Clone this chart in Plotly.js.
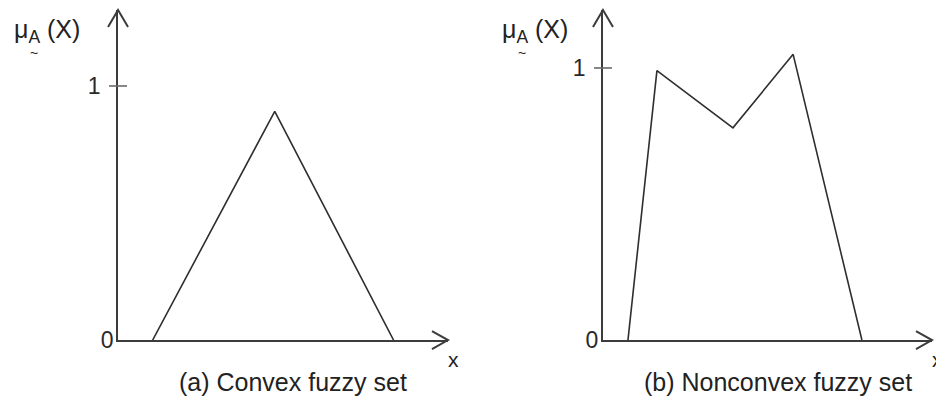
<!DOCTYPE html>
<html>
<head>
<meta charset="utf-8">
<script src="https://cdn.plot.ly/plotly-3.0.1.min.js"></script>
<style>
  html, body { margin: 0; padding: 0; background: #fff; }
  #chart { width: 936px; height: 401px; }
</style>
</head>
<body>
<div id="chart"></div>
<script>
// (a) convex membership function: a single triangle
const convexX = [1.05, 4.75, 8.35];
const convexMu = [0, 0.9, 0];

// (b) nonconvex membership function: two peaks with a dip between them
const nonconvexX = [0.76, 1.64, 3.95, 5.78, 7.87];
const nonconvexMu = [0, 0.99, 0.78, 1.05, 0];

// shared tick values / labels on the membership axis
const muTickVals = [0, 1];
const muTickText = ['0', '1\u00a0\u00a0'];

const captions = ['(a) Convex fuzzy set', '(b) Nonconvex fuzzy set'];
const axisName = 'x';
const muLabel = '\u03bc<sub>A</sub> (X)';

const INK = '#2e2e2e';
const AXIS = '#3c3c3c';
const FONT = 'Liberation Sans, Arial, Helvetica, sans-serif';

const xMax = 10;

function xAxisCfg(domain, anchor) {
  return {
    domain: domain, range: [0, xMax], anchor: anchor, showline: true, linecolor: AXIS, linewidth: 2,
    showgrid: false, zeroline: false, ticks: '', showticklabels: false, fixedrange: true
  };
}
function yAxisCfg(domain, top, anchor) {
  return {
    domain: domain, range: [0, top], anchor: anchor, showline: true, linecolor: AXIS, linewidth: 2,
    showgrid: false, zeroline: false, ticks: '', tickmode: 'array',
    tickvals: muTickVals, ticktext: muTickText, ticklabelstandoff: -2,
    tickfont: {family: FONT, size: 23, color: '#2a2a2a'}, fixedrange: true
  };
}

const yDom = [0.1521, 0.975];
const leftTop = 1.299, rightTop = 1.213;

const traces = [
  {x: convexX, y: convexMu, xaxis: 'x', yaxis: 'y', mode: 'lines',
   line: {color: INK, width: 1.6}, cliponaxis: false, hoverinfo: 'skip'},
  {x: nonconvexX, y: nonconvexMu, xaxis: 'x2', yaxis: 'y2', mode: 'lines',
   line: {color: INK, width: 1.6}, cliponaxis: false, hoverinfo: 'skip'}
];

// open arrowheads on the axis ends, plus the short tick across the axis at 1
function decorations(xr, yr, top) {
  const xd = xr + ' domain', yd = yr + ' domain';
  return [
    {type: 'path', xref: xd, yref: yd, xsizemode: 'pixel', ysizemode: 'pixel',
     xanchor: 1, yanchor: 0, path: 'M-16,9 L0,0 L-16,-9',
     line: {color: AXIS, width: 2}},
    {type: 'path', xref: xd, yref: yd, xsizemode: 'pixel', ysizemode: 'pixel',
     xanchor: 0, yanchor: 1, path: 'M-10,-17 L0,0 L10,-17',
     line: {color: AXIS, width: 2}},
    {type: 'line', xref: xd, yref: yd, xsizemode: 'pixel', xanchor: 0,
     x0: -9, x1: 9, y0: muTickVals[1] / top, y1: muTickVals[1] / top,
     line: {color: '#6a6a6a', width: 1.6}}
  ];
}

function panelText(xr, yr, caption, muX) {
  return [
    {xref: xr + ' domain', yref: 'paper', x: 0.531, y: 0.047, xanchor: 'center', yanchor: 'middle',
     text: caption, showarrow: false, font: {family: FONT, size: 25, color: '#222'}},
    {xref: xr + ' domain', yref: yr + ' domain', x: 1, y: 0, xanchor: 'left', yanchor: 'top',
     xshift: -2, yshift: -6, text: axisName, showarrow: false,
     font: {family: FONT, size: 21, color: '#222'}},
    {xref: 'paper', yref: 'paper', x: muX, y: 0.923, xanchor: 'left', yanchor: 'middle',
     text: muLabel, showarrow: false, font: {family: FONT, size: 25, color: '#222'}},
    {xref: 'paper', yref: 'paper', x: muX + 0.0235, y: 0.869, xanchor: 'center', yanchor: 'middle',
     text: '~', showarrow: false, font: {family: FONT, size: 14, color: '#222'}}
  ];
}

const layout = {
  width: 936, height: 401,
  margin: {l: 0, r: 0, t: 0, b: 0},
  paper_bgcolor: '#fff', plot_bgcolor: '#fff',
  showlegend: false,
  xaxis: xAxisCfg([0.1261, 0.4786], 'y'),
  yaxis: yAxisCfg(yDom, leftTop, 'x'),
  xaxis2: xAxisCfg([0.6442, 0.9957], 'y2'),
  yaxis2: yAxisCfg(yDom, rightTop, 'x2'),
  shapes: decorations('x', 'y', leftTop).concat(decorations('x2', 'y2', rightTop)),
  annotations: panelText('x', 'y', captions[0], 0.0128).concat(panelText('x2', 'y2', captions[1], 0.5342))
};

Plotly.newPlot('chart', traces, layout, {staticPlot: true, displayModeBar: false});
</script>
</body>
</html>
